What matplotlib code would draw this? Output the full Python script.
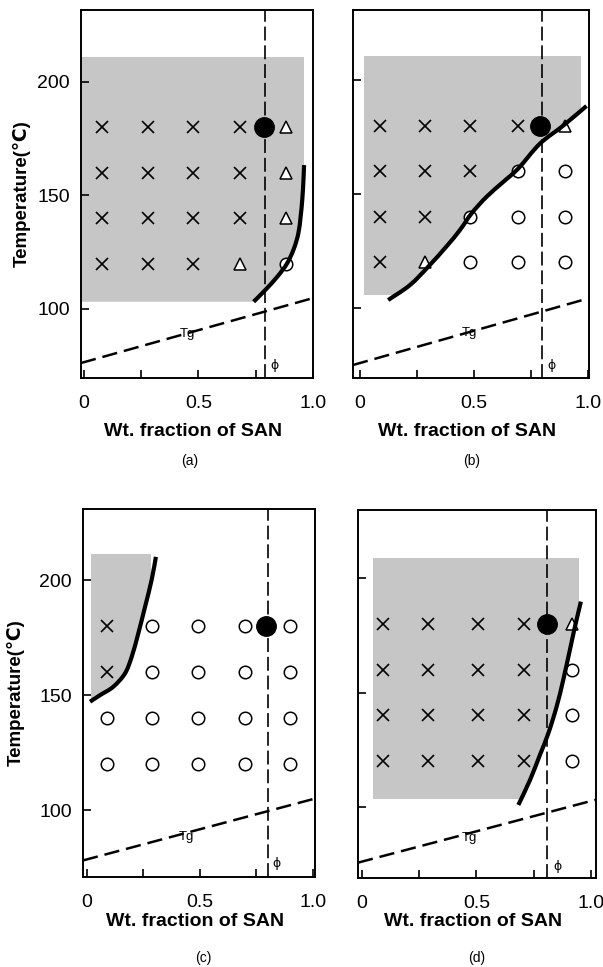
import numpy as np
import matplotlib
matplotlib.use('Agg')
import matplotlib.pyplot as plt
from matplotlib.patches import Rectangle, PathPatch
from matplotlib.path import Path

plt.rcParams['font.family'] = ['Liberation Sans', 'DejaVu Sans']
plt.rcParams['lines.scale_dashes'] = False

# ---------------- data ----------------
T_levels = [180, 160, 140, 120]
onset_T = 180

# panel (a)
a_x = [0.077, 0.281, 0.478, 0.683, 0.880]
a_sym = [['x', 'x', 'x', 'x', '^'],
         ['x', 'x', 'x', 'x', '^'],
         ['x', 'x', 'x', 'x', '^'],
         ['x', 'x', 'x', '^', 'o']]
a_onset_x = 0.785
a_curve_x = [0.741, 0.792, 0.844, 0.887, 0.917, 0.936, 0.946, 0.953, 0.958, 0.961]
a_curve_T = [103.2, 108.4, 114.2, 120.1, 126.7, 133.3, 140.7, 148.0, 156.1, 163.4]
a_shade = (-0.013, 0.96, 103.2, 211.0)
a_tg_x = [-0.013, 1.0]
a_tg_T = [76.2, 104.8]
a_phi = 0.79

# panel (b)
b_x = [0.088, 0.285, 0.485, 0.694, 0.899]
b_sym = [['x', 'x', 'x', 'x', '^'],
         ['x', 'x', 'x', 'o', 'o'],
         ['x', 'x', 'o', 'o', 'o'],
         ['x', '^', 'o', 'o', 'o']]
b_onset_x = 0.789
b_curve_x = [0.124, 0.219, 0.299, 0.380, 0.439, 0.490, 0.556, 0.629, 0.695, 0.789, 0.892, 0.994]
b_curve_T = [103.5, 110.0, 118.0, 127.0, 134.2, 141.5, 148.8, 155.3, 161.2, 172.0, 180.0, 188.6]
b_shade = (0.018, 0.97, 105.7, 210.5)
b_tg_x = [-0.03, 1.005]
b_tg_T = [75.0, 104.3]
b_phi = 0.80

# panel (c)
c_x = [0.087, 0.286, 0.490, 0.699, 0.900]
c_sym = [['x', 'o', 'o', 'o', 'o'],
         ['x', 'o', 'o', 'o', 'o'],
         ['o', 'o', 'o', 'o', 'o'],
         ['o', 'o', 'o', 'o', 'o']]
c_onset_x = 0.795
c_curve_x = [0.013, 0.058, 0.116, 0.168, 0.198, 0.227, 0.257, 0.286, 0.305]
c_curve_T = [147.1, 150.0, 153.6, 159.4, 166.7, 176.8, 188.4, 200.0, 210.1]
c_shade = (0.018, 0.285, 147.0, 211.3)
c_tg_x = [-0.018, 1.01]
c_tg_T = [78.1, 105.0]
c_phi = 0.80

# panel (d)
d_x = [0.090, 0.290, 0.505, 0.707, 0.916]
d_sym = [['x', 'x', 'x', 'x', '^'],
         ['x', 'x', 'x', 'x', 'o'],
         ['x', 'x', 'x', 'x', 'o'],
         ['x', 'x', 'x', 'x', 'o']]
d_onset_x = 0.806
d_curve_x = [0.683, 0.734, 0.777, 0.814, 0.850, 0.879, 0.908, 0.930, 0.956]
d_curve_T = [100.9, 111.8, 122.7, 132.2, 143.8, 155.5, 168.6, 178.7, 189.7]
d_shade = (0.048, 0.948, 103.5, 208.7)
d_tg_x = [-0.017, 1.022]
d_tg_T = [75.7, 103.2]
d_phi = 0.81

x_ticks = [0, 0.25, 0.5, 0.75, 1.0]
x_ticklabels = ['0', '', '0.5', '', '1.0']
y_ticks = [100, 150, 200]
xlabel = 'Wt. fraction of SAN'
ylabel = 'Temperature(℃)'

# ---------------- layout ----------------
W, H = 603, 967
fig = plt.figure(figsize=(W / 100, H / 100), dpi=100)


def px_axes(l, r, t, b):
    return fig.add_axes([l / W, 1 - b / H, (r - l) / W, (b - t) / H])


def smooth_segments(xs, ys):
    """Catmull-Rom curve through the read points, as cubic Bezier pieces."""
    P = np.column_stack([xs, ys]).astype(float)
    n = len(P)
    verts, codes = [], []
    for i in range(n - 1):
        p0 = P[i - 1] if i > 0 else P[i]
        p1, p2 = P[i], P[i + 1]
        p3 = P[i + 2] if i + 2 < n else P[i + 1]
        c1 = p1 + (p2 - p0) / 6.0
        c2 = p2 - (p3 - p1) / 6.0
        verts += [tuple(c1), tuple(c2), tuple(p2)]
        codes += [Path.CURVE4] * 3
    return verts, codes


panels = [
    dict(box=(81, 313, 10, 378), xlim=(-0.013, 1.0), ylim=(69.6, 231.7),
         xs=a_x, sym=a_sym, onset=a_onset_x, cx=a_curve_x, cT=a_curve_T,
         shade=a_shade, tgx=a_tg_x, tgT=a_tg_T, phi=a_phi,
         tgpos=(0.45, 89), phipos=(0.83, 75.3), cap='(a)', capxy=(190, 461),
         ylab=True, ylabx=22, xlaby=432),
    dict(box=(353, 589, 10, 378), xlim=(-0.03, 1.005), ylim=(69.3, 230.7),
         xs=b_x, sym=b_sym, onset=b_onset_x, cx=b_curve_x, cT=b_curve_T,
         shade=b_shade, tgx=b_tg_x, tgT=b_tg_T, phi=b_phi,
         tgpos=(0.48, 89), phipos=(0.84, 75), cap='(b)', capxy=(472, 461),
         ylab=False, xlaby=432),
    dict(box=(83, 315, 509, 877), xlim=(-0.018, 1.01), ylim=(70.9, 230.9),
         xs=c_x, sym=c_sym, onset=c_onset_x, cx=c_curve_x, cT=c_curve_T,
         shade=c_shade, tgx=c_tg_x, tgT=c_tg_T, phi=c_phi,
         tgpos=(0.44, 88.4), phipos=(0.84, 76.8), cap='(c)', capxy=(203, 958),
         ylab=True, ylabx=16, xlaby=922),
    dict(box=(358, 596, 510, 878), xlim=(-0.017, 1.022), ylim=(69.0, 229.7),
         xs=d_x, sym=d_sym, onset=d_onset_x, cx=d_curve_x, cT=d_curve_T,
         shade=d_shade, tgx=d_tg_x, tgT=d_tg_T, phi=d_phi,
         tgpos=(0.47, 86.3), phipos=(0.856, 74), cap='(d)', capxy=(477, 958),
         ylab=False, xlaby=922),
]

shade_color = '#c6c6c6'

for p in panels:
    l, r, t, b = p['box']
    ax = px_axes(l, r, t, b)
    ax.set_xlim(*p['xlim'])
    ax.set_ylim(*p['ylim'])

    cx, cT = p['cx'], p['cT']
    seg_v, seg_c = smooth_segments(cx, cT)

    # shaded region: rectangle clipped to the side left of / above the curve
    x0, x1, T0, T1 = p['shade']
    rect = Rectangle((x0, T0), x1 - x0, T1 - T0, facecolor=shade_color,
                     edgecolor='none', zorder=1)
    ax.add_patch(rect)
    clip_v = [(-10, cT[0]), (cx[0], cT[0])] + seg_v + \
             [(10, cT[-1]), (10, 1000), (-10, 1000), (-10, cT[0])]
    clip_c = [Path.MOVETO, Path.LINETO] + seg_c + \
             [Path.LINETO, Path.LINETO, Path.LINETO, Path.CLOSEPOLY]
    clip_patch = PathPatch(Path(clip_v, clip_c), transform=ax.transData)
    rect.set_clip_path(clip_patch)

    # Tg line
    ax.plot(p['tgx'], p['tgT'], color='black', lw=1.8, dashes=(11, 5), zorder=2)
    ax.text(p['tgpos'][0], p['tgpos'][1], 'Tg', fontsize=9.5, ha='center', va='center',
            zorder=3)

    # phi line
    ax.axvline(p['phi'], color='black', lw=1.2, dashes=(10, 3.5), zorder=2)
    ax.text(p['phipos'][0], p['phipos'][1], 'ϕ', fontsize=9, ha='center', va='center',
            family=['DejaVu Sans'])

    # markers
    for row, T in zip(p['sym'], T_levels):
        for s, x in zip(row, p['xs']):
            if s == 'x':
                ax.plot(x, T, marker='x', ms=8, mew=1.2, color='black', ls='none', zorder=4)
            elif s == 'o':
                ax.plot(x, T, marker='o', ms=9, mew=1.1, mfc='white', mec='black',
                        ls='none', zorder=4)
            elif s == '^':
                ax.plot(x, T, marker='^', ms=8, mew=1.1, mfc='white', mec='black',
                        ls='none', zorder=4)
    ax.plot(p['onset'], onset_T, marker='o', ms=14, color='black', ls='none', zorder=6)

    # boundary curve (smooth through the read points)
    curve_path = Path([(cx[0], cT[0])] + seg_v, [Path.MOVETO] + seg_c)
    ax.add_patch(PathPatch(curve_path, facecolor='none', edgecolor='black', lw=3,
                           capstyle='butt', zorder=5))

    # axes styling
    for sp in ax.spines.values():
        sp.set_linewidth(1.4)
    ax.set_xticks(x_ticks)
    ax.set_xticklabels(x_ticklabels)
    ax.set_yticks(y_ticks)
    ax.tick_params(direction='in', length=6, width=1.2, labelsize=14)
    ax.tick_params(axis='x', pad=12)
    ax.tick_params(axis='y', pad=8)
    if not p['ylab']:
        ax.set_yticklabels([])
    else:
        fig.text(p['ylabx'] / W, 1 - (t + b) / 2 / H, ylabel, rotation=90, fontsize=13.5,
                 fontweight='bold', ha='center', va='center')
    fig.text((l + r) / 2 / W - 4 / W, 1 - p['xlaby'] / H, xlabel, fontsize=14,
             fontweight='bold', ha='center', va='center')
    fig.text(p['capxy'][0] / W, 1 - p['capxy'][1] / H, p['cap'], fontsize=10,
             ha='center', va='center')

fig.savefig('out.png', dpi=100)
